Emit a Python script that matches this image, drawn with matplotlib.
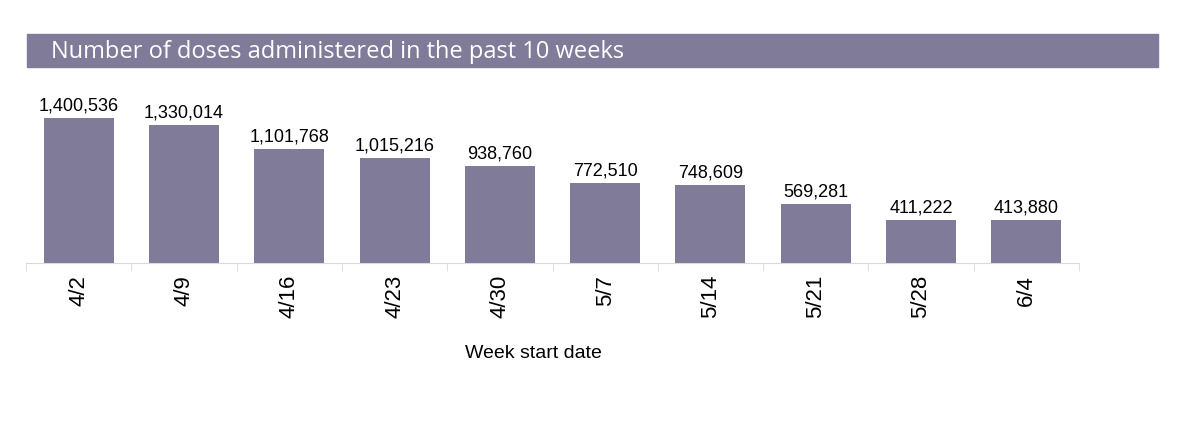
import matplotlib.pyplot as plt
from matplotlib.patches import Rectangle
import numpy as np

# donnees
weeks = ["4/2", "4/9", "4/16", "4/23", "4/30", "5/7", "5/14", "5/21", "5/28", "6/4"]
doses = [1400536, 1330014, 1101768, 1015216, 938760, 772510, 748609, 569281, 411222, 413880]

bar_color = "#7f7b99"
W, H = 1200, 431

plt.rcParams["font.family"] = ["Liberation Sans", "DejaVu Sans"]
fig = plt.figure(figsize=(W / 100, H / 100), dpi=100)

# bandeau du titre
fig.patches.append(Rectangle((27 / W, 1 - 68 / H), (1158 - 27) / W, 33 / H,
                             transform=fig.transFigure, color=bar_color, zorder=0))
fig.text(51 / W, 1 - 51.5 / H, "Number of doses administered in the past 10 weeks",
         color="white", fontsize=17, va="center", ha="left", family="Open Sans",
         fontweight="medium")

ax = fig.add_axes([26 / W, 1 - 264 / H, (1079 - 26) / W, 186.4 / H])
x = np.arange(len(weeks))
ax.bar(x, doses, width=0.665, color=bar_color)
for xi, v in zip(x, doses):
    ax.text(xi, v + 45000, f"{v:,}", ha="center", va="bottom", fontsize=13)

ax.set_xlim(-0.5, len(weeks) - 0.5)
ax.set_ylim(0, 1.8e6)
ax.set_xticks(x)
ax.set_xticklabels(weeks, rotation=90, fontsize=16)
ax.tick_params(axis="x", which="major", length=0, pad=8)
ax.set_xticks(np.arange(-0.5, len(weeks)), minor=True)
ax.tick_params(axis="x", which="minor", length=6, color="#d9d9d9")
ax.set_yticks([])
for s in ["top", "right", "left"]:
    ax.spines[s].set_visible(False)
ax.spines["bottom"].set_color("#d9d9d9")

# titre de l'axe x
fig.text(533 / W, 1 - 353 / H, "Week start date", fontsize=14, ha="center", va="center")

fig.savefig("out.png", dpi=100)
